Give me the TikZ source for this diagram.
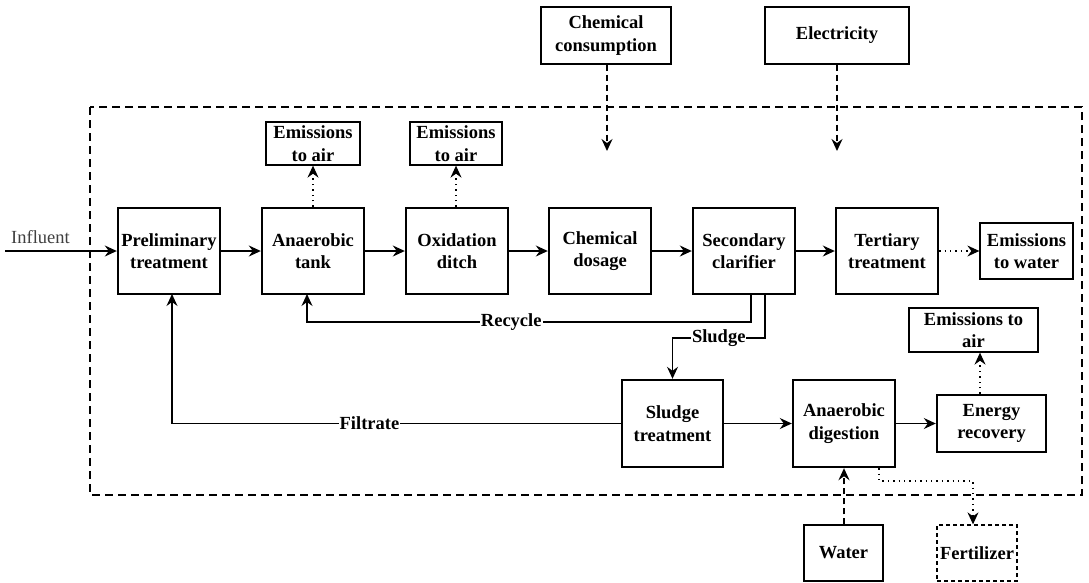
\documentclass[tikz,border=0pt]{standalone}
\usepackage{fontspec}
\setmainfont{Liberation Serif}
\usetikzlibrary{arrows.meta}
\begin{document}
\begin{tikzpicture}[x=1pt,y=-1pt,
  lbl/.style={font=\fontsize{18.5}{22.5}\selectfont\bfseries,align=center,inner sep=0pt},
  proc/.style={lbl,draw,line width=2.4pt,minimum width=102pt,minimum height=86pt},
  outbox/.style={lbl,draw,line width=1.3pt},
  flow/.style={line width=1.2pt,-{Stealth[length=12pt,width=11pt,inset=4pt]}},
  dotflow/.style={flow,dash pattern=on 1.4pt off 4pt},
  dashflow/.style={flow,line width=1.6pt,dash pattern=on 6pt off 4pt},
  tag/.style={lbl,fill=white,inner sep=1pt}]
\useasboundingbox (0,0) rectangle (1089,582);

% system boundary
\draw[line width=1.8pt,dash pattern=on 8pt off 5pt] (90,107) rectangle (1082,495);

% main treatment line
\node[proc] (pre)  at (169,251) {Preliminary\\treatment};
\node[proc] (ana)  at (313,251) {Anaerobic\\tank};
\node[proc] (oxi)  at (457,251) {Oxidation\\ditch};
\node[proc] (chem) at (600,251) {Chemical\\dosage};
\node[proc] (sec)  at (744,251) {Secondary\\clarifier};
\node[proc] (ter)  at (887,251) {Tertiary\\treatment};
\node[outbox,minimum width=93pt,minimum height=56pt] (ew) at (1026.5,251) {Emissions\\to water};

% emissions to air from the biological stages
\node[outbox,minimum width=94pt,minimum height=43pt] (ea1) at (313,143.5) {Emissions\\to air};
\node[outbox,minimum width=92pt,minimum height=43pt] (ea2) at (456,143.5) {Emissions\\to air};

% external inputs
\node[outbox,minimum width=130pt,minimum height=57pt] (cc) at (606,35.5) {Chemical\\consumption};
\node[outbox,minimum width=144pt,minimum height=57pt] (el) at (837,35.5) {Electricity};
\coordinate (ccend) at (607,151);
\coordinate (elend) at (837,151);

% sludge line
\node[proc,minimum width=101pt,minimum height=87pt] (sl) at (672.5,423.5) {Sludge\\treatment};
\node[proc,minimum height=87pt] (ad) at (844,423.5) {Anaerobic\\digestion};
\node[proc,minimum width=109pt,minimum height=57pt] (er) at (991.5,423.5) {Energy\\recovery};
\node[outbox,minimum width=129pt,minimum height=44pt] (ea3) at (973.5,330) {Emissions to\\air};
\node[outbox,minimum width=79pt,minimum height=56pt] (wat) at (843.5,553) {Water};
\node[outbox,dash pattern=on 4pt off 3pt,minimum width=80pt,minimum height=56pt] (fer) at (977,553) {Fertilizer};

% influent
\coordinate (in) at (5,251);
\draw[flow] (in) -- (pre.west);
\node[font=\fontsize{18.5}{22}\selectfont,text=black!75,anchor=south west,inner sep=0pt] (inl) at (11,244) {Influent};

% main flows
\draw[flow] (pre) -- (ana);
\draw[flow] (ana) -- (oxi);
\draw[flow] (oxi) -- (chem);
\draw[flow] (chem) -- (sec);
\draw[flow] (sec) -- (ter);
\draw[dotflow] (ter) -- (ew);
\draw[dotflow] (ana.north) -- (ea1);
\draw[dotflow] (ea2.south |- oxi.north) -- (ea2);
\draw[dashflow] (cc.south -| ccend) -- (ccend);
\draw[dashflow] (el) -- (elend);

% recycle and sludge
\draw[flow] ([xshift=7pt]sec.south) |- (307,322) node[tag,pos=0.77] {Recycle} -- (307,294);
\draw[flow] ([xshift=21pt]sec.south) |- (672.5,338) node[tag,pos=0.75] {Sludge} -- (sl.north);
\draw[flow] (sl.west) -- (172,423.5) node[tag,pos=0.56] {Filtrate} -- (172,294);

% digestion and recovery
\draw[flow] (sl) -- (ad);
\draw[flow] (ad) -- (er);
\draw[dotflow] (er.north -| 980,0) -- (ea3.south -| 980,0);
\draw[dashflow] (wat.north -| ad.south) -- (ad.south);
\draw[dotflow] ([xshift=35pt]ad.south) |- (973,481) -- (fer.north -| 973,0);
\end{tikzpicture}
\end{document}
